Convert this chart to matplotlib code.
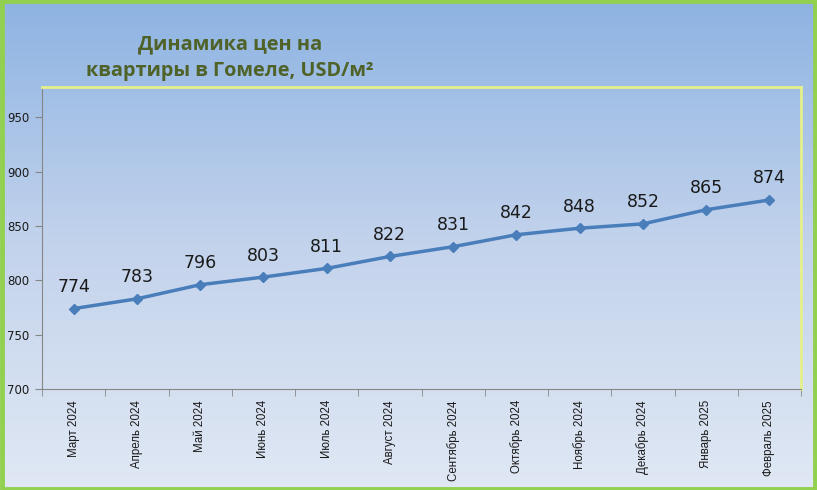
import numpy as np
import matplotlib
matplotlib.use("Agg")
import matplotlib.pyplot as plt
from matplotlib.patches import Rectangle
from matplotlib.colors import LinearSegmentedColormap

months = ["Март 2024", "Апрель 2024", "Май 2024", "Июнь 2024", "Июль 2024",
          "Август 2024", "Сентябрь 2024", "Октябрь 2024", "Ноябрь 2024",
          "Декабрь 2024", "Январь 2025", "Февраль 2025"]
prices = [774, 783, 796, 803, 811, 822, 831, 842, 848, 852, 865, 874]
yticks = [700, 750, 800, 850, 900, 950]

W, H = 817, 490
fig = plt.figure(figsize=(W / 100, H / 100), dpi=100)

# background gradient
bg = fig.add_axes([0, 0, 1, 1], zorder=0)
cmap = LinearSegmentedColormap.from_list("bg", ["#8DB3E2", "#C3D3EC", "#E0E8F4"])
grad = np.linspace(0, 1, 256).reshape(-1, 1)
bg.imshow(grad, aspect="auto", cmap=cmap, extent=[0, 1, 0, 1], origin="upper")
bg.set_xlim(0, 1); bg.set_ylim(0, 1)
bg.axis("off")
bg.add_patch(Rectangle((0.002, 0.003), 0.996, 0.994, fill=False,
                       edgecolor="#92D050", linewidth=3.5, transform=bg.transAxes))

left, right, top, bottom = 42, 801, 87, 389
ax = fig.add_axes([left / W, 1 - bottom / H, (right - left) / W, (bottom - top) / H], zorder=1)
ax.patch.set_alpha(0)

x = np.arange(len(months))
ax.plot(x, prices, color="#4A7EBB", linewidth=2.5, marker="D", markersize=5.5,
        markerfacecolor="#4A7EBB", markeredgecolor="#4A7EBB")
for xi, v in zip(x, prices):
    ax.annotate(str(v), (xi, v), textcoords="offset points", xytext=(0, 9),
                ha="center", va="bottom", fontsize=12.5, color="#1a1a1a",
                family=["DejaVu Sans"])

ax.set_xlim(-0.5, len(months) - 0.5)
ax.set_ylim(700, 978)
ax.set_yticks(yticks)
ax.set_yticklabels([str(t) for t in yticks], fontsize=8.5, color="#1a1a1a")
ax.set_xticks(x)
ax.set_xticklabels(months, rotation=90, fontsize=8.3, color="#1a1a1a",
                   family=["Liberation Sans", "DejaVu Sans"])
ax.tick_params(axis="x", length=0, pad=8)
ax.set_xticks(np.arange(-0.5, len(months)), minor=True)
ax.tick_params(axis="x", which="minor", length=5, color="#868686")
ax.tick_params(axis="y", length=5, color="#868686", pad=4)

ax.spines["left"].set_color("#868686")
ax.spines["bottom"].set_color("#868686")
ax.spines["top"].set_color("#E6F08A")
ax.spines["right"].set_color("#E6F08A")
ax.spines["top"].set_linewidth(2)
ax.spines["right"].set_linewidth(2)

fig.text(230 / W, 1 - 58 / H, "Динамика цен на\nквартиры в Гомеле, USD/м²",
         ha="center", va="center", fontsize=14.3, fontweight="bold",
         color="#4F6228", family=["Open Sans", "DejaVu Sans"], linespacing=1.45)

fig.savefig("out.png", dpi=100)
